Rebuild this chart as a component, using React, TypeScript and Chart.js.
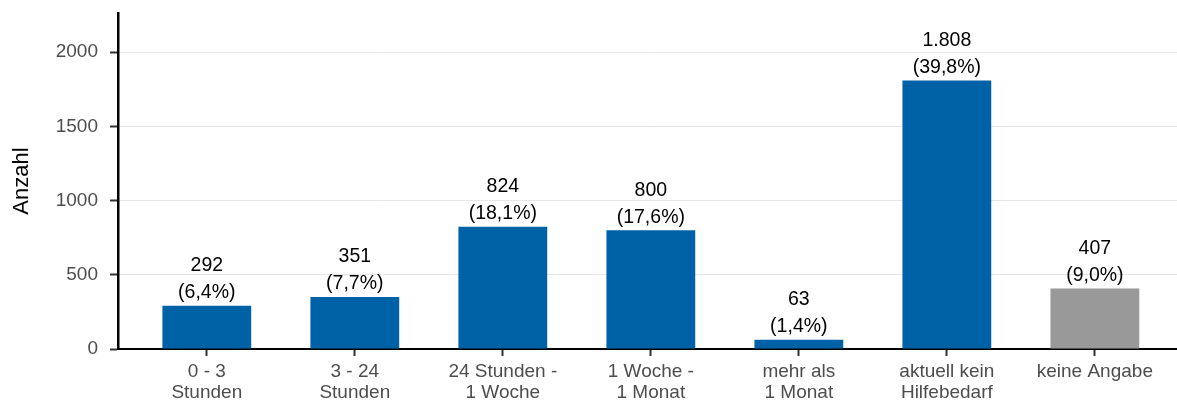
import React, { useEffect, useRef } from 'react';
import { Chart, registerables } from 'chart.js';

Chart.register(...registerables);

const categories: string[][] = [
  ['0 - 3', 'Stunden'],
  ['3 - 24', 'Stunden'],
  ['24 Stunden -', '1 Woche'],
  ['1 Woche -', '1 Monat'],
  ['mehr als', '1 Monat'],
  ['aktuell kein', 'Hilfebedarf'],
  ['keine Angabe'],
];
const counts: number[] = [292, 351, 824, 800, 63, 1808, 407];
const percentLabels: string[] = ['(6,4%)', '(7,7%)', '(18,1%)', '(17,6%)', '(1,4%)', '(39,8%)', '(9,0%)'];
const yTickValues: number[] = [0, 500, 1000, 1500, 2000];
const yAxisTitle = 'Anzahl';

const BLUE = '#0062a6';
const GREY = '#999999';
const barColors = categories.map((c) => (c[0] === 'keine Angabe' ? GREY : BLUE));

const FONT = '"Liberation Sans", Arial, sans-serif';

function fmtDe(n: number): string {
  const s = String(Math.round(n));
  return s.replace(/\B(?=(\d{3})+(?!\d))/g, '.');
}

const labelPlugin = {
  id: 'barLabels',
  afterDatasetsDraw(chart: any) {
    const ctx = chart.ctx;
    const meta = chart.getDatasetMeta(0);
    ctx.save();
    ctx.fillStyle = '#000000';
    ctx.font = `19.5px ${FONT}`;
    ctx.textAlign = 'center';
    ctx.textBaseline = 'middle';
    meta.data.forEach((el: any, i: number) => {
      ctx.fillText(percentLabels[i], el.x, el.y - 13);
      ctx.fillText(fmtDe(counts[i]), el.x, el.y - 40);
    });
    ctx.restore();
  },
};

export default function App() {
  const ref = useRef<HTMLCanvasElement | null>(null);
  useEffect(() => {
    document.body.style.margin = '0';
    const canvas = ref.current!;
    const chart = new Chart(canvas, {
      type: 'bar',
      data: {
        datasets: [
          {
            data: counts.map((v, i) => ({ x: i, y: v })),
            backgroundColor: barColors,
            borderWidth: 0,
            barPercentage: 0.6,
            categoryPercentage: 1,
          },
        ],
      },
      options: {
        responsive: false,
        animation: false,
        devicePixelRatio: 1,
        layout: { padding: { top: 13, right: 0, bottom: 0, left: 0 } },
        plugins: { legend: { display: false }, tooltip: { enabled: false } },
        scales: {
          x: {
            type: 'linear',
            min: -0.6,
            max: 6.555,
            offset: false,
            afterBuildTicks: (scale: any) => {
              scale.ticks = categories.map((_, i) => ({ value: i }));
            },
            afterFit: (scale: any) => {
              scale.height = 52;
              scale.paddingLeft = 0;
              scale.paddingRight = 0;
            },
            ticks: {
              autoSkip: false,
              maxRotation: 0,
              minRotation: 0,
              padding: 5,
              color: '#4d4d4d',
              font: { family: FONT, size: 19, lineHeight: 1.1 },
              callback: (v: any) => categories[Math.round(Number(v))] ?? '',
            },
            grid: {
              offset: false,
              drawOnChartArea: false,
              drawTicks: true,
              tickLength: 7,
              tickColor: '#333333',
              tickWidth: 2,
            },
            border: { display: true, color: '#000000', width: 2 },
          },
          y: {
            min: 0,
            max: 2263,
            afterBuildTicks: (scale: any) => {
              scale.ticks = yTickValues.map((v) => ({ value: v }));
            },
            afterFit: (scale: any) => {
              scale.width = 118;
              scale.paddingTop = 0;
              scale.paddingBottom = 0;
            },
            ticks: {
              padding: 12,
              color: '#4d4d4d',
              font: { family: FONT, size: 19 },
              callback: (v: any) => String(v),
            },
            grid: {
              color: '#e6e6e6',
              lineWidth: 1,
              drawTicks: true,
              tickLength: 8,
              tickColor: '#333333',
              tickWidth: 2,
            },
            border: { display: true, color: '#000000', width: 2.5 },
            title: {
              display: true,
              text: yAxisTitle,
              color: '#000000',
              font: { family: FONT, size: 22 },
              padding: { top: 9, bottom: 0 },
            },
          },
        },
      },
      plugins: [labelPlugin],
    } as any);
    return () => chart.destroy();
  }, []);
  return (
    <div style={{ position: 'absolute', left: 0, top: 0, width: 1177, height: 401 }}>
      <canvas ref={ref} width={1177} height={401} style={{ width: 1177, height: 401, display: 'block' }} />
    </div>
  );
}
